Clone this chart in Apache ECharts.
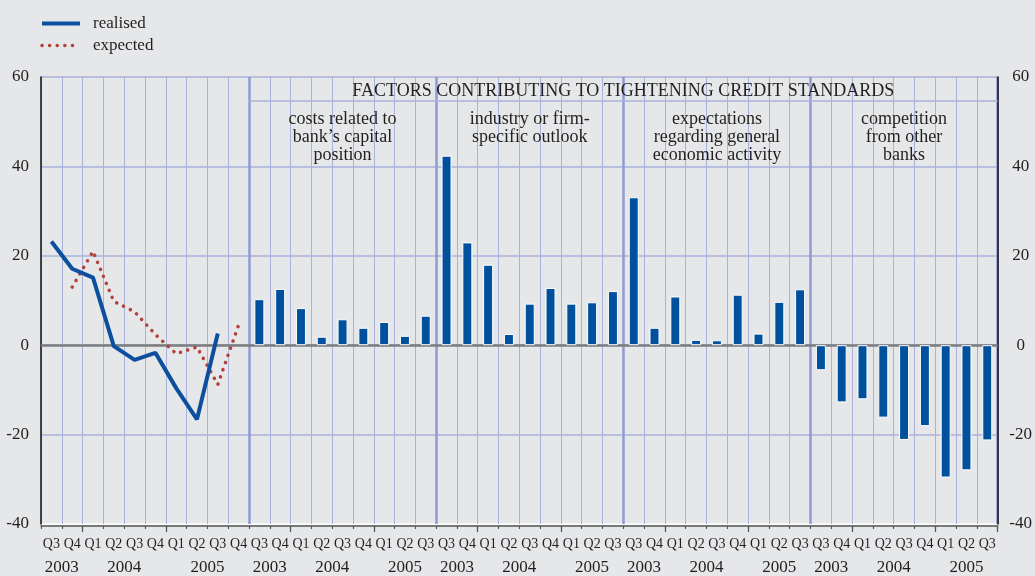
<!DOCTYPE html>
<html><head><meta charset="utf-8">
<script src="https://cdn.jsdelivr.net/npm/echarts@6/dist/echarts.min.js"></script>
<style>html,body{margin:0;padding:0;background:#e6e7e9}#c{width:1035px;height:576px}</style>
</head><body><div id="c"></div>
<script>
// ---- data ----
const lineQuarters = ['Q3 2003','Q4 2003','Q1 2004','Q2 2004','Q3 2004','Q4 2004','Q1 2005','Q2 2005','Q3 2005','Q4 2005'];
const barQuarters = ['Q3 2003','Q4 2003','Q1 2004','Q2 2004','Q3 2004','Q4 2004','Q1 2005','Q2 2005','Q3 2005'];
const realised = [23.2, 17.1, 15.1, -0.2, -3.3, -1.7, -9.6, -16.6, 2.6, null];
const expected = [null, 13.0, 21.0, 9.8, 7.5, 2.4, -1.9, -0.4, -8.8, 4.5];
const costs = [10.3, 12.6, 8.3, 1.9, 5.8, 3.9, 5.2, 2.1, 6.6];
const industry = [42.4, 23.0, 18.0, 2.5, 9.3, 12.8, 9.3, 9.6, 12.1];
const expectations = [33.1, 3.9, 10.9, 1.2, 1.1, 11.3, 2.6, 9.7, 12.5];
const competition = [-5.6, -12.8, -12.1, -16.2, -21.2, -18.1, -29.6, -28.0, -21.3];
const panelTitles = ['costs related to\nbank’s capital\nposition', 'industry or firm-\nspecific outlook', 'expectations\nregarding general\neconomic activity', 'competition\nfrom other\nbanks'];
const headerTitle = 'FACTORS CONTRIBUTING TO TIGHTENING CREDIT STANDARDS';
const legendNames = ['realised', 'expected'];
const yMin = -40, yMax = 60, yStep = 20;

// ---- derived ----
const FONT = 'Liberation Serif';
const TXT = '#231f20';
const GRID_BLUE = '#a9b2dd';
const BLUE = '#0b4f9e';
const RED = '#b3413b';
const REAL_STYLE = { color: BLUE, width: 4 };
const EXP_STYLE = { color: RED, width: 3.5, type: [0.1, 7.5], cap: 'round' };
const groups = [lineQuarters, barQuarters, barQuarters, barQuarters, barQuarters];
const barSets = [costs, industry, expectations, competition];
const catIds = [], quarterOf = [], groupStarts = [];
let acc = 0;
groups.forEach((g, gi) => {
  groupStarts.push(acc);
  g.forEach(p => { const [q, y] = p.split(' '); catIds.push(gi + '|' + q + '|' + y); quarterOf.push(q); });
  acc += g.length;
});
const N = acc;
const yearLabelAt = {};
groups.forEach((g, gi) => {
  const s = groupStarts[gi], ranges = {};
  g.forEach((p, i) => { const y = p.split(' ')[1]; if (!ranges[y]) ranges[y] = [i, i]; ranges[y][1] = i; });
  Object.keys(ranges).forEach(y => { const [a, b] = ranges[y]; yearLabelAt[(s + (a + b + 1) / 2).toFixed(1)] = y; });
});
const realisedData = new Array(N).fill(null);
const expectedData = new Array(N).fill(null);
lineQuarters.forEach((_, i) => { realisedData[groupStarts[0] + i] = realised[i]; expectedData[groupStarts[0] + i] = expected[i]; });
const barData = new Array(N).fill(null);
barSets.forEach((arr, k) => arr.forEach((v, i) => { barData[groupStarts[k + 1] + i] = v; }));

const headerLineY = 54.6;
const panelAreas = panelTitles.map((t, k) => [
  { coord: [groupStarts[k + 1], headerLineY], label: { show: true, formatter: t } },
  { coord: [groupStarts[k + 1] + barQuarters.length, 35] }
]);
const headerArea = [
  { coord: [groupStarts[1], yMax], label: { show: true, position: 'inside', offset: [0, 2], formatter: headerTitle } },
  { coord: [N, headerLineY] }
];

const splitColors = [];
for (let v = yMin; v <= yMax; v += yStep) splitColors.push(v === yMin ? '#ffffff' : GRID_BLUE);

const chart = echarts.init(document.getElementById('c'));
chart.setOption({
  backgroundColor: '#e6e7e9',
  animation: false,
  textStyle: { fontFamily: FONT },
  legend: {
    orient: 'vertical', left: 35, top: 10, itemWidth: 38, itemHeight: 16, itemGap: 5,
    data: [
      { name: legendNames[0], lineStyle: REAL_STYLE },
      { name: legendNames[1], lineStyle: EXP_STYLE }
    ],
    itemStyle: { color: 'rgba(0,0,0,0)', borderWidth: 0, opacity: 0 },
    textStyle: { fontFamily: FONT, fontSize: 17, color: TXT, padding: [0, 0, 0, 8], lineHeight: 16 }
  },
  grid: { left: 41, right: 37, top: 77, bottom: 48, containLabel: false },
  xAxis: [
    {
      type: 'category', data: catIds, boundaryGap: true, position: 'bottom', offset: 2,
      axisLine: { show: true, onZero: false, lineStyle: { color: '#555', width: 1.5 } },
      axisTick: { show: true, interval: 0, length: 3, lineStyle: { color: '#555', width: 1.2 } },
      axisLabel: { interval: 0, margin: 11, fontSize: 14, fontFamily: FONT, color: TXT, formatter: v => v.split('|')[1] },
      splitLine: { show: true, interval: 0, lineStyle: { color: GRID_BLUE, width: 1 } }
    },
    {
      type: 'category', data: catIds, boundaryGap: true, position: 'bottom', offset: 2,
      axisLine: { show: false, onZero: false },
      axisTick: { show: true, length: 6, interval: idx => quarterOf[idx] === 'Q1', lineStyle: { color: '#555', width: 1.2 } },
      axisLabel: { show: false },
      splitLine: { show: true, interval: idx => idx > 0 && groupStarts.indexOf(idx) >= 0, lineStyle: { color: '#8f9bd2', width: 2.5 } }
    },
    {
      type: 'value', min: 0, max: N, interval: 0.5, position: 'bottom', offset: 2,
      axisLine: { show: false, onZero: false }, axisTick: { show: false }, splitLine: { show: false },
      axisLabel: { show: true, margin: 33, fontSize: 17, fontFamily: FONT, color: TXT, showMinLabel: true, showMaxLabel: true,
        formatter: v => yearLabelAt[Number(v).toFixed(1)] || '' }
    }
  ],
  yAxis: [
    {
      type: 'value', min: yMin, max: yMax, interval: yStep, position: 'left',
      axisLine: { show: true, onZero: false, lineStyle: { color: '#111', width: 1.5 } },
      axisTick: { show: false },
      axisLabel: { margin: 12, fontSize: 17, fontFamily: FONT, color: TXT },
      splitLine: { show: true, lineStyle: { color: splitColors, width: 1.5 } }
    },
    {
      type: 'value', min: yMin, max: yMax, interval: yStep, position: 'right',
      axisLine: { show: true, onZero: false, lineStyle: { color: '#111', width: 1.5 } },
      axisTick: { show: false },
      axisLabel: { margin: 23, align: 'center', fontSize: 17, fontFamily: FONT, color: TXT },
      splitLine: { show: false }
    }
  ],
  series: [
    {
      name: 'bars', type: 'bar', xAxisIndex: 0, yAxisIndex: 0, data: barData, barWidth: 10,
      itemStyle: { color: '#00519d', borderColor: '#ffffff', borderWidth: 1 },
      silent: true, z: 3,
      markLine: { silent: true, symbol: 'none', z: 2, label: { show: false },
        lineStyle: { color: '#7d7d7d', width: 2.5, type: 'solid' }, data: [{ yAxis: 0 }] }
    },
    {
      name: legendNames[0], type: 'line', xAxisIndex: 0, yAxisIndex: 0, data: realisedData,
      symbol: 'none', connectNulls: false, z: 6,
      itemStyle: { color: BLUE }, lineStyle: REAL_STYLE
    },
    {
      name: legendNames[1], type: 'line', xAxisIndex: 0, yAxisIndex: 0, data: expectedData,
      symbol: 'none', connectNulls: false, z: 5,
      itemStyle: { color: RED }, lineStyle: EXP_STYLE
    },
    {
      name: 'annot', type: 'line', xAxisIndex: 2, yAxisIndex: 0, data: [], silent: true, z: 4,
      markLine: { silent: true, symbol: 'none', label: { show: false },
        lineStyle: { color: GRID_BLUE, width: 1.5, type: 'solid' },
        data: [[{ coord: [groupStarts[1], headerLineY] }, { coord: [N, headerLineY] }]] },
      markArea: { silent: true, itemStyle: { color: 'rgba(0,0,0,0)' },
        label: { show: true, position: 'insideTop', distance: 9, fontFamily: FONT, fontSize: 18, lineHeight: 18, color: TXT, align: 'center' },
        data: panelAreas.concat([headerArea]) }
    }
  ]
});
</script></body></html>
